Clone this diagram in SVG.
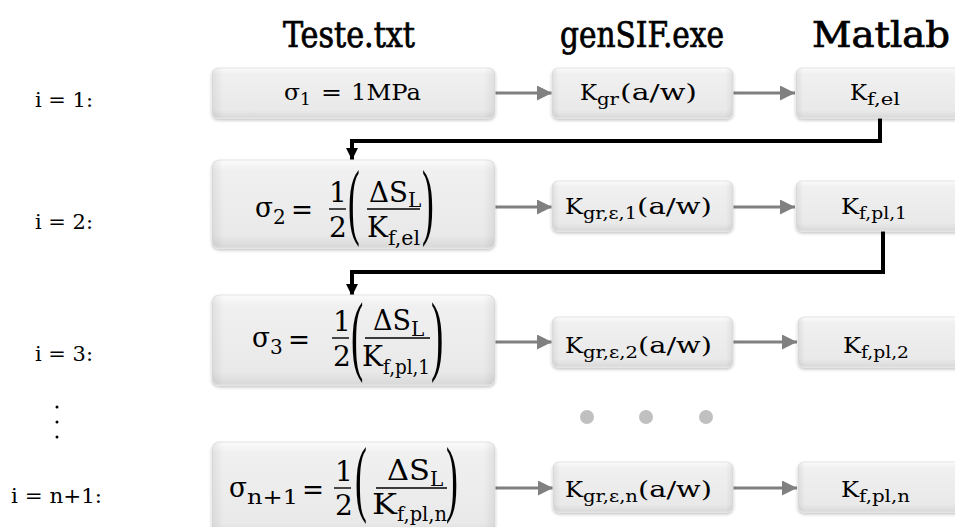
<svg xmlns="http://www.w3.org/2000/svg" width="955" height="527" viewBox="0 0 955 527">
<defs>
<linearGradient id="gV" x1="0" y1="0" x2="0" y2="1">
<stop offset="0" stop-color="#fbfbfb"/>
<stop offset="0.12" stop-color="#f0f0f0"/>
<stop offset="0.85" stop-color="#e9e9e9"/>
<stop offset="1" stop-color="#d8d8d8"/>
</linearGradient>
<linearGradient id="gH" x1="0" y1="0" x2="1" y2="0">
<stop offset="0" stop-color="#000" stop-opacity="0.07"/>
<stop offset="0.04" stop-color="#000" stop-opacity="0"/>
<stop offset="0.96" stop-color="#000" stop-opacity="0"/>
<stop offset="1" stop-color="#000" stop-opacity="0.07"/>
</linearGradient>
<filter id="sh" x="-10%" y="-20%" width="120%" height="150%">
<feDropShadow dx="0" dy="2" stdDeviation="1.5" flood-color="#000" flood-opacity="0.22"/>
</filter>
<marker id="ag" viewBox="0 0 10 10" refX="10" refY="5" markerWidth="5" markerHeight="5" markerUnits="strokeWidth" orient="auto">
<path d="M0,0 L10,5 L0,10 z" fill="#808080"/>
</marker>
<marker id="ab" viewBox="0 0 10 10" refX="10" refY="5" markerWidth="3" markerHeight="3" markerUnits="strokeWidth" orient="auto">
<path d="M0,0 L10,5 L0,10 z" fill="#000"/>
</marker>
</defs>
<style>
.box{fill:url(#gV);stroke:#e4e4e4;stroke-width:1;filter:url(#sh)}
.boxe{fill:url(#gH)}
.hdr{font-family:"DejaVu Serif Condensed","DejaVu Serif",serif;font-stretch:condensed;font-size:35px;fill:#000;stroke:#000;stroke-width:0.7}
.lbl{font-family:"DejaVu Serif",serif;font-size:20px;fill:#000}
.m{font-family:"DejaVu Serif",serif;fill:#000}
.m20{font-size:23px}
.s14{font-size:17px}
.m27{font-size:28px}
.s19{font-size:20px}
.pr{font-family:"Liberation Serif",serif;fill:#000}
.ga{stroke:#808080;stroke-width:3;fill:none;marker-end:url(#ag)}
.ba{stroke:#000;stroke-width:4;fill:none;marker-end:url(#ab)}
.bar{stroke:#000;stroke-width:1.4}
.dot{fill:#c0c0c0}
</style>

<g id="headers">
<text class="hdr" x="283" y="47" textLength="132" lengthAdjust="spacingAndGlyphs">Teste.txt</text>
<text class="hdr" x="560" y="47" textLength="164" lengthAdjust="spacingAndGlyphs">genSIF.exe</text>
<text class="hdr" x="812" y="47" textLength="138" lengthAdjust="spacingAndGlyphs">Matlab</text>
</g>

<g id="labels">
<text class="lbl" x="35" y="107" textLength="58" lengthAdjust="spacingAndGlyphs">i = 1:</text>
<text class="lbl" x="35" y="229" textLength="58" lengthAdjust="spacingAndGlyphs">i = 2:</text>
<text class="lbl" x="35" y="361" textLength="58" lengthAdjust="spacingAndGlyphs">i = 3:</text>
<circle cx="57" cy="407" r="1.5" fill="#000"/>
<circle cx="57" cy="422" r="1.5" fill="#000"/>
<circle cx="57" cy="437" r="1.5" fill="#000"/>
<text class="lbl" x="11" y="503" textLength="91" lengthAdjust="spacingAndGlyphs">i = n+1:</text>
</g>

<g id="connectors">
<line class="ga" x1="495" y1="93" x2="552" y2="93"/>
<line class="ga" x1="733" y1="93" x2="795" y2="93"/>
<line class="ga" x1="495" y1="207" x2="552" y2="207"/>
<line class="ga" x1="733" y1="207" x2="795" y2="207"/>
<line class="ga" x1="495" y1="342" x2="552" y2="342"/>
<line class="ga" x1="733" y1="342" x2="797" y2="342"/>
<line class="ga" x1="495" y1="488" x2="553" y2="488"/>
<line class="ga" x1="733" y1="488" x2="797" y2="488"/>
<path class="ba" d="M880,118 V141 H352 V160"/>
<path class="ba" d="M883,230 V272 H352 V296"/>
</g>

<g id="dots">
<circle class="dot" cx="587" cy="417" r="7"/>
<circle class="dot" cx="646" cy="417" r="7"/>
<circle class="dot" cx="706" cy="417" r="7"/>
</g>

<!-- Row 1 -->
<g id="t1">
<rect class="box" x="212" y="68" width="283" height="50" rx="6"/>
<rect class="boxe" x="212" y="68" width="283" height="50" rx="6"/>
<text class="m m20" x="284" y="100" textLength="16" lengthAdjust="spacingAndGlyphs">σ</text>
<text class="m s14" x="300" y="105">1</text>
<text class="m m20" x="321" y="100" textLength="21" lengthAdjust="spacingAndGlyphs">=</text>
<text class="m m20" x="351" y="100" textLength="70" lengthAdjust="spacingAndGlyphs">1MPa</text>
</g>
<g id="g1">
<rect class="box" x="552" y="68" width="181" height="50" rx="6"/>
<rect class="boxe" x="552" y="68" width="181" height="50" rx="6"/>
<text class="m m20" x="580" y="100" textLength="17" lengthAdjust="spacingAndGlyphs">K</text>
<text class="m s14" x="597" y="105" textLength="22" lengthAdjust="spacingAndGlyphs">gr</text>
<text class="m m20" x="620" y="100" textLength="77" lengthAdjust="spacingAndGlyphs">(a/w)</text>
</g>
<g id="m1">
<rect class="box" x="796" y="68" width="175" height="50" rx="6"/>
<rect class="boxe" x="796" y="68" width="175" height="50" rx="6"/>
<text class="m m20" x="850" y="100" textLength="17" lengthAdjust="spacingAndGlyphs">K</text>
<text class="m s14" x="867" y="105" textLength="33" lengthAdjust="spacingAndGlyphs">f,el</text>
</g>

<!-- Row 2 -->
<g id="t2">
<rect class="box" x="212" y="160" width="283" height="88" rx="7"/>
<rect class="boxe" x="212" y="160" width="283" height="88" rx="7"/>
<text class="m m27" x="255" y="217" textLength="18" lengthAdjust="spacingAndGlyphs">σ</text>
<text class="m s19" x="273" y="224">2</text>
<text class="m m27" x="291" y="219" textLength="22" lengthAdjust="spacingAndGlyphs">=</text>
<text class="m m27" x="329" y="202">1</text>
<line class="bar" x1="329" y1="209" x2="346" y2="209"/>
<text class="m m27" x="329" y="237">2</text>
<text class="pr" font-size="84" transform="translate(348,229) scale(0.42,1)">(</text>
<text class="m m27" x="369" y="202" textLength="39" lengthAdjust="spacingAndGlyphs">ΔS</text>
<text class="m s19" x="408" y="207">L</text>
<line class="bar" x1="367" y1="209" x2="420" y2="209"/>
<text class="m m27" x="367" y="237" textLength="21" lengthAdjust="spacingAndGlyphs">K</text>
<text class="m s19" x="388" y="245" textLength="32" lengthAdjust="spacingAndGlyphs">f,el</text>
<text class="pr" font-size="84" transform="translate(422,229) scale(0.42,1)">)</text>
</g>
<g id="g2">
<rect class="box" x="552" y="181" width="181" height="50" rx="6"/>
<rect class="boxe" x="552" y="181" width="181" height="50" rx="6"/>
<text class="m m20" x="565" y="214" textLength="18" lengthAdjust="spacingAndGlyphs">K</text>
<text class="m s14" x="583" y="219" textLength="54" lengthAdjust="spacingAndGlyphs">gr,ε,1</text>
<text class="m m20" x="637" y="214" textLength="75" lengthAdjust="spacingAndGlyphs">(a/w)</text>
</g>
<g id="m2">
<rect class="box" x="796" y="181" width="175" height="50" rx="6"/>
<rect class="boxe" x="796" y="181" width="175" height="50" rx="6"/>
<text class="m m20" x="841" y="214" textLength="18" lengthAdjust="spacingAndGlyphs">K</text>
<text class="m s14" x="859" y="219" textLength="48" lengthAdjust="spacingAndGlyphs">f,pl,1</text>
</g>

<!-- Row 3 -->
<g id="t3">
<rect class="box" x="212" y="295" width="283" height="90" rx="7"/>
<rect class="boxe" x="212" y="295" width="283" height="90" rx="7"/>
<text class="m m27" x="252" y="347" textLength="18" lengthAdjust="spacingAndGlyphs">σ</text>
<text class="m s19" x="270" y="354">3</text>
<text class="m m27" x="288" y="349" textLength="22" lengthAdjust="spacingAndGlyphs">=</text>
<text class="m m27" x="333" y="331">1</text>
<line class="bar" x1="332" y1="338" x2="349" y2="338"/>
<text class="m m27" x="333" y="366">2</text>
<text class="pr" font-size="88" transform="translate(351,364) scale(0.42,1)">(</text>
<text class="m m27" x="373" y="330" textLength="38" lengthAdjust="spacingAndGlyphs">ΔS</text>
<text class="m s19" x="411" y="336">L</text>
<line class="bar" x1="365" y1="338" x2="430" y2="338"/>
<text class="m m27" x="362" y="366" textLength="21" lengthAdjust="spacingAndGlyphs">K</text>
<text class="m s19" x="383" y="374" textLength="47" lengthAdjust="spacingAndGlyphs">f,pl,1</text>
<text class="pr" font-size="88" transform="translate(431,364) scale(0.42,1)">)</text>
</g>
<g id="g3">
<rect class="box" x="552" y="317" width="181" height="50" rx="6"/>
<rect class="boxe" x="552" y="317" width="181" height="50" rx="6"/>
<text class="m m20" x="565" y="353" textLength="18" lengthAdjust="spacingAndGlyphs">K</text>
<text class="m s14" x="583" y="358" textLength="55" lengthAdjust="spacingAndGlyphs">gr,ε,2</text>
<text class="m m20" x="638" y="353" textLength="74" lengthAdjust="spacingAndGlyphs">(a/w)</text>
</g>
<g id="m3">
<rect class="box" x="798" y="317" width="175" height="50" rx="6"/>
<rect class="boxe" x="798" y="317" width="175" height="50" rx="6"/>
<text class="m m20" x="843" y="353" textLength="18" lengthAdjust="spacingAndGlyphs">K</text>
<text class="m s14" x="861" y="358" textLength="48" lengthAdjust="spacingAndGlyphs">f,pl,2</text>
</g>

<!-- Row 4 -->
<g id="t4">
<rect class="box" x="212" y="442" width="283" height="95" rx="7"/>
<rect class="boxe" x="212" y="442" width="283" height="95" rx="7"/>
<text class="m m27" x="229" y="497" textLength="18" lengthAdjust="spacingAndGlyphs">σ</text>
<text class="m s19" x="247" y="504" textLength="51" lengthAdjust="spacingAndGlyphs">n+1</text>
<text class="m m27" x="302" y="499" textLength="22" lengthAdjust="spacingAndGlyphs">=</text>
<text class="m m27" x="335" y="481">1</text>
<line class="bar" x1="334" y1="488" x2="351" y2="488"/>
<text class="m m27" x="335" y="515">2</text>
<text class="pr" font-size="85" transform="translate(355,506) scale(0.42,1)">(</text>
<text class="m m27" x="387" y="480" textLength="43" lengthAdjust="spacingAndGlyphs">ΔS</text>
<text class="m s19" x="430" y="486">L</text>
<line class="bar" x1="376" y1="488" x2="447" y2="488"/>
<text class="m m27" x="372" y="514" textLength="25" lengthAdjust="spacingAndGlyphs">K</text>
<text class="m s19" x="397" y="521" textLength="50" lengthAdjust="spacingAndGlyphs">f,pl,n</text>
<text class="pr" font-size="85" transform="translate(446,506) scale(0.42,1)">)</text>
</g>
<g id="g4">
<rect class="box" x="553" y="462" width="180" height="50" rx="6"/>
<rect class="boxe" x="553" y="462" width="180" height="50" rx="6"/>
<text class="m m20" x="565" y="497" textLength="18" lengthAdjust="spacingAndGlyphs">K</text>
<text class="m s14" x="583" y="502" textLength="55" lengthAdjust="spacingAndGlyphs">gr,ε,n</text>
<text class="m m20" x="638" y="497" textLength="74" lengthAdjust="spacingAndGlyphs">(a/w)</text>
</g>
<g id="m4">
<rect class="box" x="798" y="462" width="175" height="50" rx="6"/>
<rect class="boxe" x="798" y="462" width="175" height="50" rx="6"/>
<text class="m m20" x="841" y="497" textLength="18" lengthAdjust="spacingAndGlyphs">K</text>
<text class="m s14" x="859" y="502" textLength="51" lengthAdjust="spacingAndGlyphs">f,pl,n</text>
</g>
</svg>
